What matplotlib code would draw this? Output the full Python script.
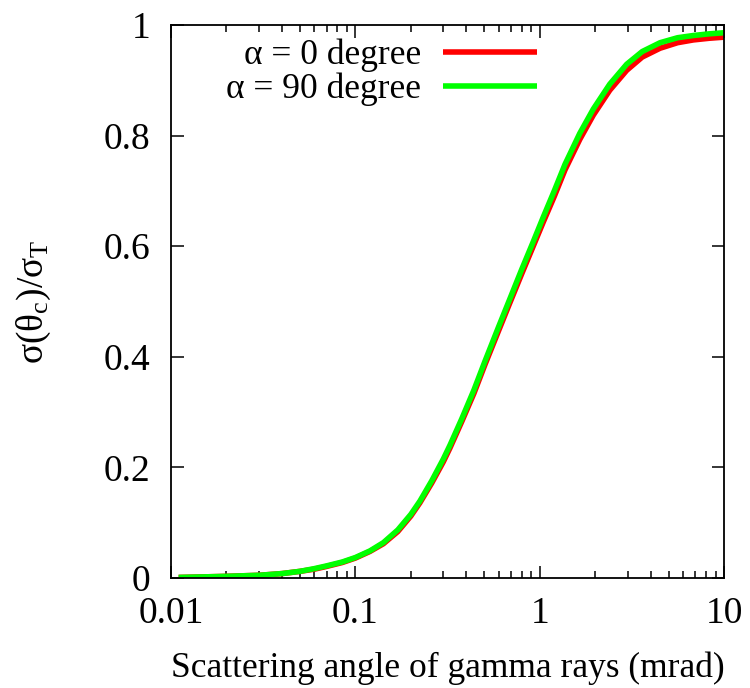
import matplotlib
matplotlib.use("Agg")
import matplotlib.pyplot as plt
from matplotlib.ticker import FixedLocator, LogLocator, NullFormatter

plt.rcParams['font.family'] = ['Liberation Serif', 'DejaVu Serif']
plt.rcParams['mathtext.fontset'] = 'custom'
plt.rcParams['mathtext.rm'] = 'Liberation Serif'
plt.rcParams['mathtext.it'] = 'Liberation Serif'
plt.rcParams['mathtext.default'] = 'regular'

theta = [0.011, 0.015, 0.02, 0.0304, 0.04, 0.05, 0.06, 0.07, 0.085, 0.1, 0.12, 0.142, 0.17,
         0.2, 0.224, 0.26, 0.3, 0.326, 0.378, 0.44, 0.505, 0.6, 0.684, 0.799, 0.92, 1.047,
         1.2, 1.372, 1.65, 1.954, 2.4, 2.965, 3.6, 4.5, 5.6, 6.82, 8.3, 10.0]
sigma_90 = [0.001, 0.002, 0.003, 0.005, 0.008, 0.012, 0.017, 0.022, 0.029, 0.037, 0.049, 0.064, 0.087,
            0.115, 0.139, 0.176, 0.215, 0.240, 0.288, 0.340, 0.392, 0.455, 0.502, 0.558, 0.607, 0.653,
            0.700, 0.748, 0.804, 0.848, 0.893, 0.929, 0.952, 0.968, 0.977, 0.981, 0.984, 0.986]
sigma_0 = [0.001, 0.002, 0.003, 0.005, 0.008, 0.012, 0.016, 0.021, 0.028, 0.036, 0.048, 0.062, 0.084,
           0.112, 0.136, 0.172, 0.210, 0.235, 0.283, 0.334, 0.386, 0.448, 0.495, 0.550, 0.599, 0.644,
           0.690, 0.738, 0.793, 0.837, 0.882, 0.918, 0.942, 0.958, 0.968, 0.973, 0.976, 0.978]

labels = ['α = 0 degree', 'α = 90 degree']
xticks = [0.01, 0.1, 1, 10]
xticklabels = ['0.01', '0.1', '1', '10']
yticks = [0, 0.2, 0.4, 0.6, 0.8, 1.0]
yticklabels = ['0', '0.2', '0.4', '0.6', '0.8', '1']

W, H = 750, 688
fig = plt.figure(figsize=(W / 100, H / 100), dpi=100)
ax = fig.add_axes([171 / W, (H - 578) / H, 553 / W, 553 / H])

ax.plot(theta, sigma_0, color='#ff0000', lw=4.0, label=labels[0],
        solid_capstyle='butt', solid_joinstyle='round')
ax.plot(theta, sigma_90, color='#00ff00', lw=4.0, label=labels[1],
        solid_capstyle='butt', solid_joinstyle='round')

ax.set_xscale('log')
ax.set_xlim(0.01, 10)
ax.set_ylim(0, 1)
ax.xaxis.set_major_locator(FixedLocator(xticks))
ax.set_xticklabels(xticklabels)
ax.xaxis.set_minor_locator(LogLocator(base=10, subs=range(2, 10)))
ax.xaxis.set_minor_formatter(NullFormatter())
ax.set_yticks(yticks)
ax.set_yticklabels(yticklabels)

for s in ax.spines.values():
    s.set_linewidth(1.3)
ax.tick_params(which='both', direction='in', top=True, right=True, width=1.1, labelsize=27)
ax.tick_params(which='major', length=9)
ax.tick_params(which='minor', length=5)
ax.tick_params(axis='y', pad=15)
ax.tick_params(axis='x', pad=13)

ax.set_xlabel('Scattering angle of gamma rays (mrad)', fontsize=25.5, labelpad=15)
ax.set_ylabel(r'$σ(θ_{c})/σ_{T}$', fontsize=27, labelpad=36)

leg = ax.legend(loc='upper left', bbox_to_anchor=(0.065, 1.01), frameon=False, fontsize=25.5,
                markerfirst=False, handlelength=2.65, handletextpad=0.6,
                labelspacing=0.0, borderaxespad=0.15)
for t in leg.get_texts():
    t.set_ha('right')
leg._legend_box.align = 'right'

fig.savefig('out.png', dpi=100)
